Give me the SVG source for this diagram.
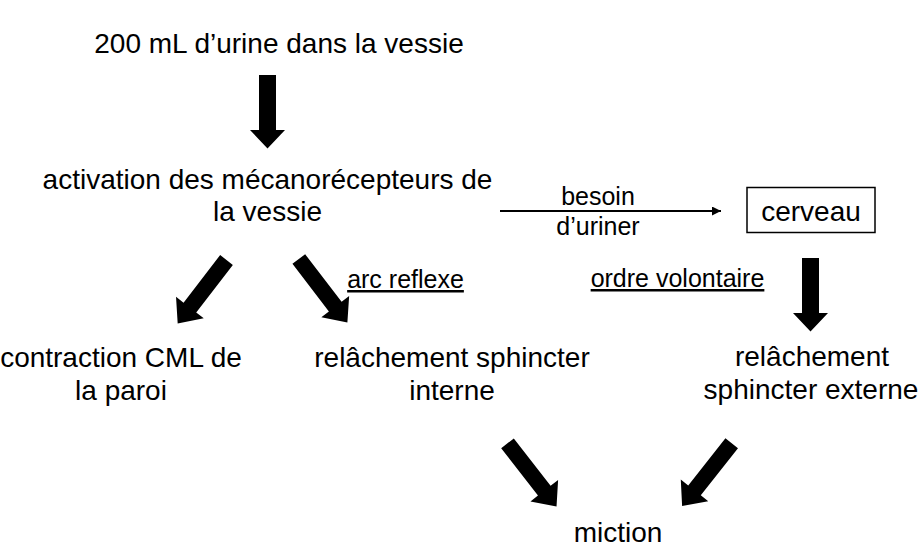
<svg xmlns="http://www.w3.org/2000/svg" xmlns:xlink="http://www.w3.org/1999/xlink" width="922" height="548" viewBox="0 0 922 548">
<style>
text{font-family:"Liberation Sans",Arial,sans-serif;fill:#000;text-anchor:middle}
.m{font-size:28px}
.l{font-size:25px}
.u{text-decoration:underline}
.big{fill:#000}
</style>
<defs>
<path id="vArrow" d="M-8.5,0 H8.5 V55 H17.5 L0,73.5 L-17.5,55 H-8.5 Z"/>
<path id="dArrow" d="M-8,0 H8 V60 H17.5 L0,80 L-17.5,60 H-8 Z"/>
<marker id="thin" markerWidth="10" markerHeight="10" refX="9" refY="4.5" orient="auto" markerUnits="userSpaceOnUse">
<path d="M0,0 L9,4.5 L0,9 Z" fill="#000"/>
</marker>
</defs>
<rect width="922" height="548" fill="#fff"/>
<g id="connectors">
<use xlink:href="#vArrow" class="big" transform="translate(267.5,75)"/>
<use xlink:href="#vArrow" class="big" transform="translate(810.5,258)"/>
<use xlink:href="#dArrow" class="big" transform="translate(226.5,260) rotate(37.6)"/>
<use xlink:href="#dArrow" class="big" transform="translate(298.8,259) rotate(-37.4)"/>
<use xlink:href="#dArrow" class="big" transform="translate(507.5,443.3) rotate(-37.8)"/>
<use xlink:href="#dArrow" class="big" transform="translate(731.7,443.3) rotate(38.3)"/>
<line x1="500" y1="211" x2="721" y2="211" stroke="#000" stroke-width="2" marker-end="url(#thin)"/>
<text class="l" x="598" y="205">besoin</text>
<text class="l" x="598" y="235">d’uriner</text>
<text class="l u" x="405.5" y="288">arc reflexe</text>
<text class="l u" x="677.5" y="287">ordre volontaire</text>
</g>
<g id="n-urine">
<text class="m" x="279" y="53">200 mL d’urine dans la vessie</text>
</g>
<g id="n-activation">
<text class="m" x="267.5" y="189">activation des mécanorécepteurs de</text>
<text class="m" x="267.5" y="221">la vessie</text>
</g>
<g id="n-cerveau">
<rect x="747" y="187.5" width="128" height="45" fill="#fff" stroke="#000" stroke-width="1.5"/>
<text class="m" x="811" y="221">cerveau</text>
</g>
<g id="n-contraction">
<text class="m" x="121" y="367">contraction CML de</text>
<text class="m" x="121" y="399.5">la paroi</text>
</g>
<g id="n-interne">
<text class="m" x="452" y="367">relâchement sphincter</text>
<text class="m" x="452" y="399.5">interne</text>
</g>
<g id="n-externe">
<text class="m" x="812" y="365.5">relâchement</text>
<text class="m" x="811" y="398.5">sphincter externe</text>
</g>
<g id="n-miction">
<text class="m" x="618" y="541.5">miction</text>
</g>
</svg>
